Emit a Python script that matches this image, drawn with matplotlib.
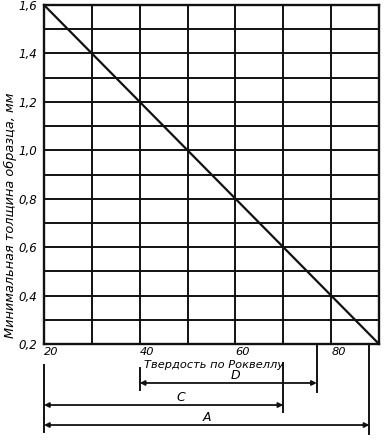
import matplotlib

matplotlib.use("Agg")
import matplotlib.pyplot as plt
import numpy as np

# hardness range and the thickness line
hardness = [20, 90]
thickness = [1.6, 0.2]

x_ticks = [20, 40, 60, 80]
y_ticks = [0.2, 0.4, 0.6, 0.8, 1.0, 1.2, 1.4, 1.6]
y_tick_labels = ["0,2", "0,4", "0,6", "0,8", "1,0", "1,2", "1,4", "1,6"]

# Rockwell scales shown as dimension lines under the axis
scale_names = ["A", "C", "D"]
scale_start = [20, 20, 40]
scale_end = [88, 70, 77]

plt.rcParams["font.family"] = ["DejaVu Sans"]
FS = 8.5
INK = "#111111"

fig = plt.figure(figsize=(3.88, 4.40), dpi=100)
ax = fig.add_axes([44 / 388, 96 / 440, 335 / 388, 339 / 440])

ax.set_xlim(hardness)
ax.set_ylim(0.2, 1.6)

# grid every 10 HR and 0.1 mm
for gx in np.arange(30, 90, 10):
    ax.axvline(gx, color=INK, lw=1.4, zorder=1)
for gy in np.arange(0.3, 1.55, 0.1):
    ax.axhline(gy, color=INK, lw=1.4, zorder=1)

ax.plot(hardness, thickness, color=INK, lw=1.6, zorder=3)

for s in ax.spines.values():
    s.set_linewidth(1.7)
    s.set_color(INK)

ax.set_xticks(x_ticks)
ax.set_xticklabels([str(t) for t in x_ticks], fontsize=8.2, style="italic")
for lab in ax.get_xticklabels():
    lab.set_horizontalalignment("left")
ax.set_yticks(y_ticks)
ax.set_yticklabels(y_tick_labels, fontsize=FS, style="italic")
ax.tick_params(axis="x", length=0, pad=2)
ax.tick_params(axis="y", length=0, pad=5)

fig.text(10 / 388, 1 - 215 / 440, "Минимальная толщина образца, мм",
         rotation=90, ha="center", va="center", fontsize=9.3, style="italic")

# dimension lines
tr = ax.get_xaxis_transform()
row_y = {"D": -0.115, "C": -0.180, "A": -0.239}
label_x = {"A": 54, "C": 48.5, "D": 60}

ax.text(20 + (214 - 44) / 4.786, -0.062, "Твердость по Роквеллу", transform=tr,
        ha="center", va="center", fontsize=8.2, style="italic")

# extension lines: (x, top, bottom) in axes fraction
ext_top = {20: -0.062, 40: -0.071, 70: -0.056, 77: 0.0, 88: 0.0}
ext_bot = {20: -0.260, 40: -0.136, 70: -0.201, 77: -0.142, 88: -0.265}
for xv in sorted(set(scale_start + scale_end)):
    ax.plot([xv, xv], [ext_top[xv], ext_bot[xv]], transform=tr, color=INK,
            lw=1.4, clip_on=False)

for name, x0, x1 in zip(scale_names, scale_start, scale_end):
    yy = row_y[name]
    ax.annotate("", xy=(x1, yy), xytext=(x0, yy), xycoords=tr, textcoords=tr,
                arrowprops=dict(arrowstyle="<|-|>", color=INK, lw=1.3,
                                mutation_scale=7, shrinkA=0, shrinkB=0),
                annotation_clip=False)
    ax.text(label_x[name], yy + 0.023, name, transform=tr, ha="center",
            va="center", fontsize=FS + 0.5, style="italic")

fig.savefig("out.png", dpi=100)
